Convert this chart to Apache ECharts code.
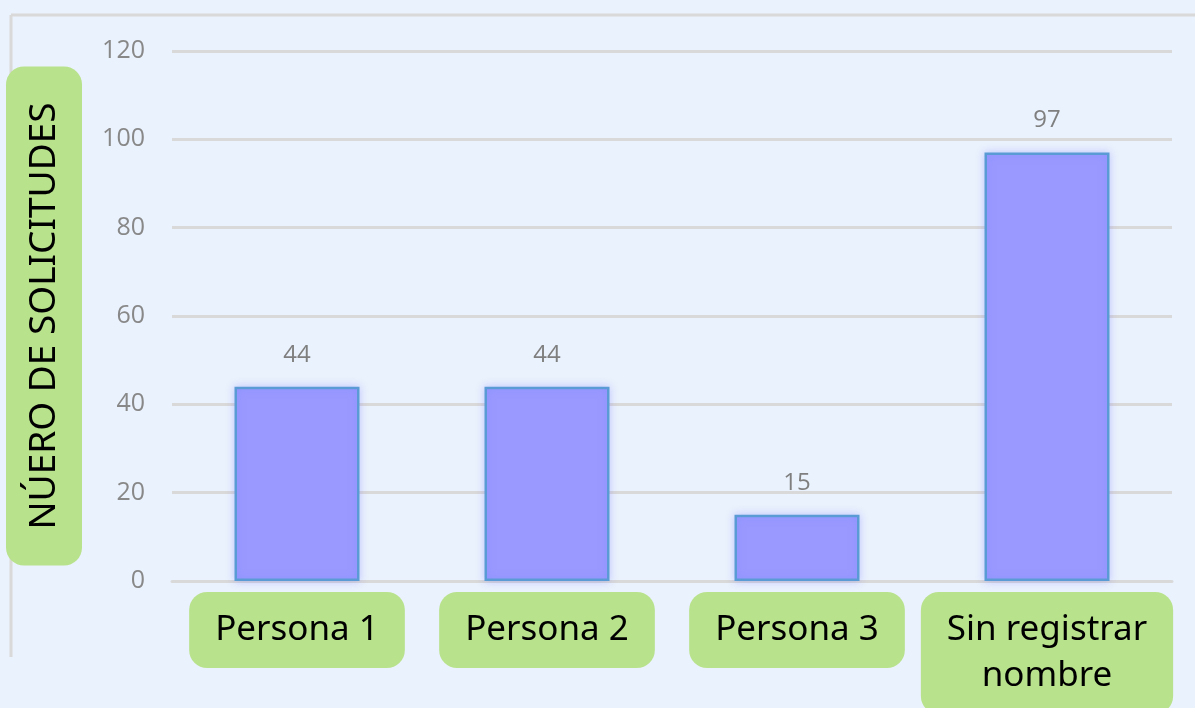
<!DOCTYPE html>
<html>
<head>
<meta charset="utf-8">
<script src="https://cdn.jsdelivr.net/npm/echarts@6/dist/echarts.min.js"></script>
<style>
  html, body { margin: 0; padding: 0; background: #EAF2FD; }
  #chart { width: 1195px; height: 708px; }
</style>
</head>
<body>
<div id="chart"></div>
<script>
  // data
  var categories = ['Persona 1', 'Persona 2', 'Persona 3', 'Sin registrar\nnombre'];
  var solicitudes = [44, 44, 15, 97];
  var axisTitle = 'NÚERO DE SOLICITUDES';

  var green = '#B9E28C';
  var chart = echarts.init(document.getElementById('chart'));
  chart.setOption({
    backgroundColor: '#EAF2FD',
    animation: false,
    graphic: [
      { type: 'line', shape: { x1: 11, y1: 15, x2: 11, y2: 657 }, style: { stroke: '#D9D9D9', lineWidth: 3 }, z: -1 },
      { type: 'line', shape: { x1: 11, y1: 15, x2: 1195, y2: 15 }, style: { stroke: '#D9D9D9', lineWidth: 3 }, z: -1 }
    ],
    grid: { left: 172, right: 23, top: 51, bottom: 127, containLabel: false, outerBoundsMode: 'none' },
    xAxis: {
      type: 'category',
      data: categories,
      axisTick: { show: false },
      axisLine: { lineStyle: { color: '#D9D9D9', width: 3 } },
      axisLabel: {
        interval: 0,
        margin: 11,
        color: '#000',
        fontFamily: 'Noto Sans',
        fontSize: 35,
        lineHeight: 46,
        backgroundColor: green,
        borderRadius: 18,
        padding: [15, 26, 15, 26]
      }
    },
    yAxis: {
      type: 'value',
      min: 0,
      max: 120,
      interval: 20,
      name: axisTitle,
      nameLocation: 'middle',
      nameRotate: 90,
      nameGap: 90,
      nameTextStyle: {
        color: '#000',
        fontFamily: 'Noto Sans',
        fontSize: 37,
        lineHeight: 44,
        backgroundColor: green,
        borderRadius: 18,
        padding: [16, 36, 16, 36]
      },
      axisLine: { show: false },
      axisTick: { show: false },
      axisLabel: { color: '#888888', fontFamily: 'Open Sans', fontSize: 25, margin: 27 },
      splitLine: { lineStyle: { color: '#D9D9D9', width: 3 } }
    },
    series: [{
      type: 'bar',
      data: solicitudes,
      barWidth: '50%',
      itemStyle: {
        color: '#9999FF',
        borderColor: '#5B9BD5',
        borderWidth: 2.5,
        shadowBlur: 8,
        shadowColor: 'rgba(120,120,255,0.35)'
      },
      label: {
        show: true,
        position: 'top',
        distance: 20,
        color: '#7F7F7F',
        fontFamily: 'Open Sans',
        fontSize: 24
      }
    }]
  });
</script>
</body>
</html>
